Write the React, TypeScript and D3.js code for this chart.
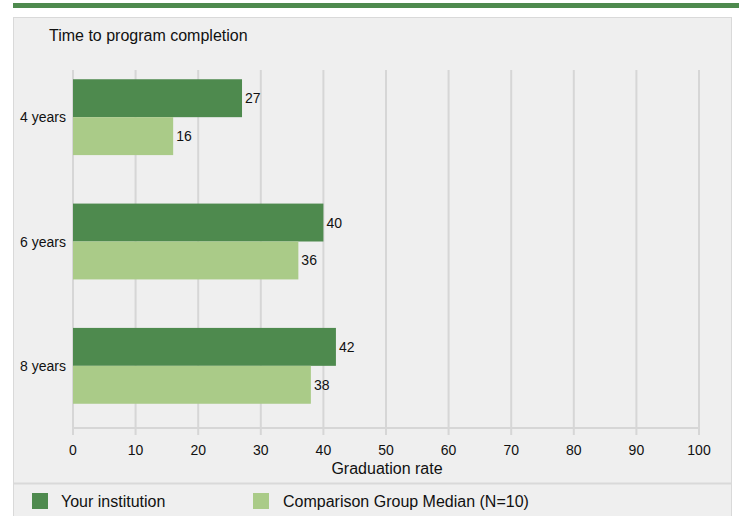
import React from 'react';
import * as d3 from 'd3';

const categories = ['4 years', '6 years', '8 years'];
const institution = [27, 40, 42];
const comparison = [16, 36, 38];
const xTicks = [0, 10, 20, 30, 40, 50, 60, 70, 80, 90, 100];
const seriesNames = ['Your institution', 'Comparison Group Median (N=10)'];

const W = 739;
const H = 516;
const dark = '#4e8a4e';
const light = '#aacb88';
const font = 'Arial, "Liberation Sans", sans-serif';

export default function App() {
  const x = d3.scaleLinear().domain([0, 100]).range([73, 699]);
  const y = d3.scaleBand().domain(categories).range([55, 428]).paddingInner(0.39).paddingOuter(0.195);
  const inner = d3.scaleBand().domain(['a', 'b']).range([0, y.bandwidth()]);
  const gridTop = 70;
  const axisY = 428;

  return (
    <svg width={W} height={H} style={{ position: 'absolute', left: 0, top: 0 }} fontFamily={font}>
      <rect x={13} y={3} width={W - 13} height={5} fill={dark} />
      <rect x={13.5} y={17.5} width={718} height={H} fill="#efefef" stroke="#d9d9d9" />
      <line x1={13} x2={732} y1={483.5} y2={483.5} stroke="#d9d9d9" strokeWidth={2} />
      <text x={49} y={41} fontSize={16} fill="#111">Time to program completion</text>

      {xTicks.map(t => (
        <line key={t} x1={x(t)} x2={x(t)} y1={gridTop} y2={axisY + 7} stroke="#d6d6d6" strokeWidth={2} />
      ))}
      <line x1={x(0)} x2={x(100)} y1={axisY} y2={axisY} stroke="#d6d6d6" strokeWidth={2} />
      {xTicks.map(t => (
        <text key={t} x={x(t)} y={455} fontSize={14} textAnchor="middle" fill="#111">{t}</text>
      ))}
      <text x={387} y={474} fontSize={16} textAnchor="middle" fill="#111">Graduation rate</text>

      {categories.map((c, i) => {
        const y0 = y(c)!;
        return (
          <g key={c}>
            <text x={66} y={y0 + y.bandwidth() / 2 + 5} fontSize={14} textAnchor="end" fill="#111">{c}</text>
            <rect x={x(0)} y={y0 + inner('a')!} width={x(institution[i]) - x(0)} height={inner.bandwidth()} fill={dark} />
            <rect x={x(0)} y={y0 + inner('b')!} width={x(comparison[i]) - x(0)} height={inner.bandwidth()} fill={light} />
            <text x={x(institution[i]) + 3} y={y0 + inner('a')! + inner.bandwidth() / 2 + 5} fontSize={14} fill="#111">{institution[i]}</text>
            <text x={x(comparison[i]) + 3} y={y0 + inner('b')! + inner.bandwidth() / 2 + 5} fontSize={14} fill="#111">{comparison[i]}</text>
          </g>
        );
      })}

      <rect x={32} y={493} width={16} height={16} fill={dark} />
      <text x={61} y={507} fontSize={16} fill="#111">{seriesNames[0]}</text>
      <rect x={253} y={493} width={16} height={16} fill={light} />
      <text x={283} y={507} fontSize={16} fill="#111">{seriesNames[1]}</text>
    </svg>
  );
}
